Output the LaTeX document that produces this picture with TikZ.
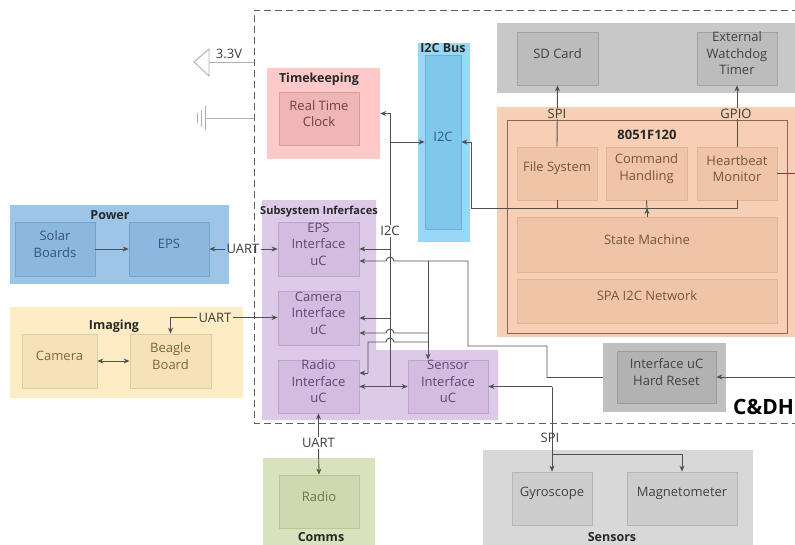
\documentclass[tikz,border=0pt]{standalone}
\usepackage{fontspec}
\setmainfont{Open Sans}
\usetikzlibrary{fit,arrows.meta}

% palette
\definecolor{lnc}{RGB}{80,80,80}
\definecolor{lblc}{RGB}{60,60,60}
\definecolor{pwrbg}{RGB}{157,197,232}
\definecolor{pwrin}{RGB}{140,184,224}
\definecolor{pwrdr}{RGB}{118,163,205}
\definecolor{pwrtx}{RGB}{55,85,120}
\definecolor{imgbg}{RGB}{253,236,196}
\definecolor{imgin}{RGB}{246,226,184}
\definecolor{imgdr}{RGB}{226,205,162}
\definecolor{imgtx}{RGB}{125,100,65}
\definecolor{tkbg}{RGB}{255,200,201}
\definecolor{tkin}{RGB}{240,182,183}
\definecolor{tkdr}{RGB}{214,158,160}
\definecolor{tktx}{RGB}{115,60,62}
\definecolor{busbg}{RGB}{152,216,246}
\definecolor{busin}{RGB}{128,199,236}
\definecolor{busdr}{RGB}{108,178,218}
\definecolor{bustx}{RGB}{45,90,130}
\definecolor{subbg}{RGB}{221,201,232}
\definecolor{subin}{RGB}{211,188,223}
\definecolor{subdr}{RGB}{188,164,204}
\definecolor{subtx}{RGB}{95,70,110}
\definecolor{topbg}{RGB}{200,200,200}
\definecolor{topin}{RGB}{188,188,188}
\definecolor{topdr}{RGB}{163,163,163}
\definecolor{graytx}{RGB}{65,65,65}
\definecolor{orbg}{RGB}{246,207,180}
\definecolor{orin}{RGB}{240,197,167}
\definecolor{ordr}{RGB}{224,180,150}
\definecolor{ortx}{RGB}{118,85,62}
\definecolor{orfr}{RGB}{140,100,80}
\definecolor{hrbg}{RGB}{192,192,192}
\definecolor{hrin}{RGB}{178,178,178}
\definecolor{hrdr}{RGB}{155,155,155}
\definecolor{cmbg}{RGB}{216,226,189}
\definecolor{cmin}{RGB}{206,217,176}
\definecolor{cmdr}{RGB}{184,198,152}
\definecolor{cmtx}{RGB}{105,120,75}
\definecolor{snbg}{RGB}{216,216,216}
\definecolor{snin}{RGB}{205,205,205}
\definecolor{sndr}{RGB}{182,182,182}
\definecolor{bndc}{RGB}{95,95,95}
\definecolor{symc}{RGB}{175,175,175}
\definecolor{ttlc}{RGB}{40,40,40}

\tikzset{
  grp/.style={inner sep=0pt, draw=none},
  blk/.style={font=\fontsize{13}{16.5}\selectfont, align=center, inner sep=0pt, line width=0.8pt},
  pwrblk/.style={blk, fill=pwrin, draw=pwrdr, text=pwrtx},
  imgblk/.style={blk, fill=imgin, draw=imgdr, text=imgtx},
  tkblk/.style={blk, fill=tkin, draw=tkdr, text=tktx},
  busblk/.style={blk, fill=busin, draw=busdr, text=bustx},
  subblk/.style={blk, fill=subin, draw=subdr, text=subtx},
  topblk/.style={blk, fill=topin, draw=topdr, text=graytx},
  orblk/.style={blk, fill=orin, draw=ordr, text=ortx},
  hrblk/.style={blk, fill=hrin, draw=hrdr, text=graytx},
  cmblk/.style={blk, fill=cmin, draw=cmdr, text=cmtx},
  snblk/.style={blk, fill=snin, draw=sndr, text=graytx},
  ttl/.style={font=\bfseries\fontsize{12.5}{15}\selectfont, inner sep=0pt, text=ttlc},
  lbl/.style={font=\fontsize{13}{15}\selectfont, text=lblc, inner sep=1pt},
  conn/.style={draw=lnc, line width=0.9pt},
  arr/.style={conn, -{Stealth[length=6pt,width=5pt]}},
  darr/.style={conn, {Stealth[length=6pt,width=5pt]}-{Stealth[length=6pt,width=5pt]}},
  sym/.style={draw=symc, line width=0.9pt},
}

\begin{document}
\begin{tikzpicture}[x=1pt,y=-1pt]
\useasboundingbox (0,0) rectangle (795,544);
\clip (0,0) rectangle (795,544);

% C&DH boundary
\draw[bndc, line width=0.9pt, dash pattern=on 7pt off 4pt]
  (810,10) -- (254,10) -- (254,423) -- (810,423);

% group backgrounds
\node[grp, fill=pwrbg, fit={(10,205) (229,284)}] (power) {};
\node[grp, fill=imgbg, fit={(10,307) (243,398)}] (imaging) {};
\node[grp, fill=tkbg, fit={(267,68) (380,159)}] (tk) {};
\node[grp, fill=busbg, fit={(418,43) (470,242)}] (busbg) {};
\fill[subbg] (262,200) -- (376,200) -- (376,350) -- (498,350) -- (498,420) -- (262,420) -- cycle;
\node[grp, fill=topbg, fit={(497,23) (810,93)}] (storage) {};
\node[grp, fill=orbg, fit={(497,107) (810,337)}] (mcu) {};
\node[grp, fill=hrbg, fit={(603,343) (726,412)}] (hrbox) {};
\node[grp, fill=cmbg, fit={(263,458) (375,560)}] (comms) {};
\node[grp, fill=snbg, fit={(483,450) (753,560)}] (sensors) {};

% 8051F120 frame
\draw[orfr, line width=0.9pt] (507,120) rectangle (787,333);

% group titles
\node[ttl] (powerT) at (110,215) {Power};
\node[ttl] (imagingT) at (114,326) {Imaging};
\node[ttl] (tkT) at (319,79) {Timekeeping};
\node[ttl] (busT) at (443,48.5) {I2C Bus};
\node[ttl, font=\bfseries\fontsize{11}{13}\selectfont] (subT) at (319,212) {Subsystem Inferfaces};
\node[ttl, font=\bfseries\fontsize{13}{15}\selectfont] (mcuT) at (647,135) {8051F120};
\node[ttl] (commsT) at (321,537) {Comms};
\node[ttl] (sensorsT) at (612,537) {Sensors};
\node[font=\bfseries\fontsize{21}{24}\selectfont, inner sep=0pt, anchor=west, text=black] (cdhT) at (733,407) {C\&DH};

% blocks
\node[pwrblk, fit={(15,222) (95,276)}] (solar) {Solar\\Boards};
\node[pwrblk, fit={(129,222) (209,276)}] (eps) {EPS};
\node[imgblk, fit={(22,334) (97,388)}] (camera) {Camera};
\node[imgblk, fit={(130,334) (211,388)}] (beagle) {Beagle\\Board};
\node[tkblk, fit={(279,92) (359,145)}] (rtc) {Real Time\\Clock};
\node[busblk, fit={(425,55) (461,229)}] (bus) {I2C};
\node[subblk, fit={(278,222) (359,276)}] (epsif) {EPS\\Interface\\uC};
\node[subblk, fit={(278,291) (359,345)}] (camif) {Camera\\Interface\\uC};
\node[subblk, fit={(278,360) (359,413)}] (radif) {Radio\\Interface\\uC};
\node[subblk, fit={(408,360) (488,413)}] (senif) {Sensor\\Interface\\uC};
\node[topblk, fit={(517,32) (598,85)}] (sd) {SD Card};
\node[topblk, fit={(697,32) (777,85)}] (wd) {External\\Watchdog\\Timer};
\node[orblk, fit={(517,147) (597,200)}] (fs) {File System};
\node[orblk, fit={(606,147) (687,200)}] (ch) {Command\\Handling};
\node[orblk, fit={(697,147) (777,200)}] (hb) {Heartbeat\\Monitor};
\node[orblk, fit={(517,217) (777,272)}] (sm) {State Machine};
\node[orblk, fit={(517,279) (777,323)}] (spa) {SPA I2C Network};
\node[hrblk, fit={(617,351) (716,403)}] (hr) {Interface uC\\Hard Reset};
\node[cmblk, fit={(279,475) (359,528)}] (radio) {Radio};
\node[snblk, fit={(512,472) (592,525)}] (gyro) {Gyroscope};
\node[snblk, fit={(627,472) (737,525)}] (mag) {Magnetometer};

% supply and ground symbols
\coordinate (vcc) at (209,62);
\coordinate (gnd) at (205,118);
\draw[sym] (194,62) -- (209,49) -- (209,76) -- cycle;
\draw[sym] (vcc) -- (254,62);
\draw[sym] (gnd) -- (254,118);
\draw[sym] (205,106) -- (205,130);
\draw[sym] (201,109.5) -- (201,126.5);
\draw[sym] (197,113) -- (197,123);
\node[lbl] (vccL) at (229,54) {3.3V};

% power
\draw[arr] (solar) -- (eps);
\node[lbl] (uartA) at (243,249) {UART};
\draw[arr] (uartA.west) -- (eps.east);
\draw[arr] (uartA.east) -- (epsif.west);

% imaging
\draw[darr] (camera) -- (beagle);
\node[lbl] (uartB) at (215,317.5) {UART};
\draw[arr] (uartB.east) -- (uartB.east -| camif.west);
\draw[arr] (uartB.west) -| (beagle.north);

% comms
\node[lbl] (uartC) at (318.5,443) {UART};
\draw[arr] (uartC.north) -- (radif.south);
\draw[arr] (uartC.south) -- (radio.north);

% I2C bus
\node[lbl] (i2cL) at (390,231) {I2C};
\draw[arr] (i2cL.north) |- (tk.east);
\draw[arr] (i2cL.north |- bus.west) -- (bus.west);
\draw[conn] (i2cL.south) -- (i2cL.south |- radif.east);
\draw[arr] (i2cL.south |- epsif.east) -- (epsif.east);
\draw[arr] (i2cL.south |- camif.east) -- (camif.east);
\draw[arr] (i2cL.south |- radif.east) -- (radif.east);
\draw[arr] (i2cL.south |- radif.east) -- (senif.west);

% hard reset lines
\coordinate (jA) at (428,261);
\coordinate (jB) at (428,333);
\coordinate (jC) at (428,342);
\draw[arr] (hrbox.west) -- (547,377.5) -- (547,346) -- (468,346) -- (468,261)
  -- (394,261) arc[start angle=0, end angle=-180, radius=4] -- ([yshift=-12pt]epsif.east);
\draw[arr] (jA) -- (jA |- senif.north);
\draw[arr] (jB) -- (394,333) arc[start angle=0, end angle=-180, radius=4] -- ([yshift=-15pt]camif.east);
\draw[conn] (jC) -- (394,342) arc[start angle=0, end angle=-180, radius=4] -- (368,342) -- (368,373);
\draw[arr] (368,373) -- ([yshift=13.5pt]radif.east);

% heartbeat to hard reset
\coordinate (edgeR) at (805,300);
\draw[arr] (hb.east) -| (edgeR) |- (hr.east);

% 8051 internal bus
\coordinate (smj) at (647,208);
\draw[conn] (fs.south) -- (fs.south |- smj) -- (hb.south |- smj) -- (hb.south);
\draw[conn] (ch.south) -- (smj);
\draw[arr] (sm.north) -- (smj);
\draw[arr] (fs.south |- smj) -| ([xshift=10pt]bus.east) -- (bus.east);

% SPI / GPIO to storage
\draw[arr] (fs.north) -- (sd.south);
\draw[arr] (hb.north) -- (wd.south);
\node[lbl, fill=orbg, inner sep=0.5pt, anchor=south] (spiT) at (557,119) {SPI};
\node[lbl, fill=orbg, inner sep=0.5pt, anchor=south] (gpioT) at (736,119) {GPIO};

% sensors SPI
\coordinate (spiJ) at (552,386.5);
\coordinate (spiS) at (552,454);
\draw[arr] (spiJ) -- (senif.east);
\draw[arr] (spiJ) -- (gyro.north);
\draw[arr] (spiS) -| (mag.north);
\node[lbl] (spiB) at (550,438) {SPI};

\end{tikzpicture}
\end{document}
